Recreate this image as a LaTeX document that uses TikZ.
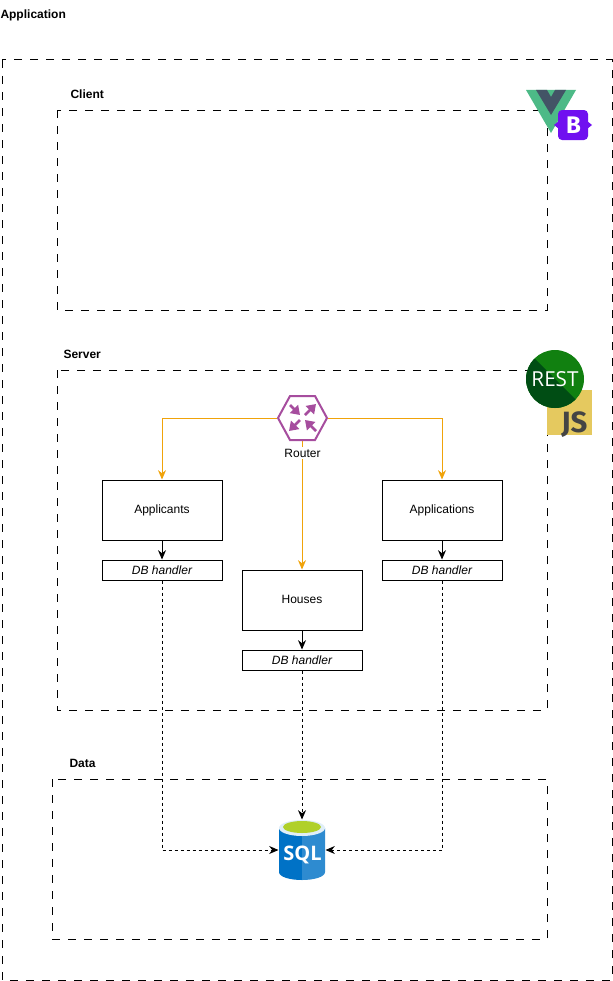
\documentclass[tikz,border=0pt]{standalone}
\usepackage{fontspec}
\setmainfont{Liberation Sans}
\newfontfamily\restfont{Open Sans}
\newfontfamily\logofont{Fira Sans}
\usetikzlibrary{arrows.meta}

\definecolor{routerorange}{HTML}{F0A30A}
\definecolor{routerpurple}{HTML}{A64D9E}
\definecolor{vuegreen}{HTML}{4DBA87}
\definecolor{vuedark}{HTML}{435466}
\definecolor{bootviolet}{HTML}{7010F0}
\definecolor{restlight}{HTML}{118010}
\definecolor{restdark}{HTML}{004D14}
\definecolor{jsyellow}{HTML}{E5C95F}
\definecolor{jsgrey}{HTML}{444444}
\definecolor{sqlleft}{HTML}{0072C6}
\definecolor{sqlright}{HTML}{2E8BD0}
\definecolor{sqlgreen}{HTML}{B0D02A}

\tikzset{
    frame/.style = {draw = black, dash pattern = on 6pt off 6pt},
    heading/.style = {font = \fontsize{9}{11}\selectfont\bfseries, inner sep = 0pt},
    service/.style = {draw = black, fill = white, minimum width = 90pt, minimum height = 45pt,
        inner sep = 0pt, font = \fontsize{9}{11}\selectfont},
    handler/.style = {draw = black, fill = white, minimum width = 90pt, minimum height = 15pt,
        inner sep = 0pt, font = \fontsize{9}{11}\selectfont\itshape},
    route/.style = {draw = routerorange, -{Stealth[length = 7pt, width = 6pt]}},
    call/.style = {draw = black, -{Stealth[length = 7pt, width = 6pt]}},
    query/.style = {draw = black, dash pattern = on 2.25pt off 2.25pt, -{Stealth[length = 7pt, width = 6pt]}}
}

\begin{document}
\begin{tikzpicture}[x = 0.75pt, y = -0.75pt, line width = 0.75pt]
    \useasboundingbox (0, 0) rectangle (613, 981);

    % Dashed frames.
    \draw[frame] (2, 60) rectangle (612, 980);
    \draw[frame] (57, 110) rectangle (547, 310);
    \draw[frame] (57, 370) rectangle (547, 710);
    \draw[frame] (52, 779) rectangle (547, 939);

    % Frame headings.
    \node[heading, anchor = west] (appLabel) at (0, 15) {Application};
    \node[heading, anchor = west] (clientLabel) at (70, 94) {Client};
    \node[heading, anchor = west] (serverLabel) at (63, 354) {Server};
    \node[heading, anchor = west] (dataLabel) at (69, 763) {Data};

    % Services and their handlers.
    \node[service] (applicants) at (162, 510) {Applicants};
    \node[service] (applications) at (442, 510) {Applications};
    \node[service] (houses) at (302, 600) {\raisebox{0.5pt}{Houses}};
    \node[handler] (dbApplicants) at (162, 570) {DB handler};
    \node[handler] (dbApplications) at (442, 570) {DB handler};
    \node[handler] (dbHouses) at (302, 660) {DB handler};

    % Anchors for the router and database icons.
    \node[minimum width = 37.5pt, minimum height = 33.75pt, inner sep = 0pt] (router) at (302, 418) {};
    \node[minimum width = 34.5pt, minimum height = 45pt, inner sep = 0pt] (sql) at (302, 850) {};

    % Orange routes.
    \draw[route] (router.west) -| (applicants.north);
    \draw[route] (router.east) -| (applications.north);
    \draw[route] (router.south) -- (houses.north);

    % Service to handler.
    \draw[call] (applicants) -- (dbApplicants);
    \draw[call] (applications) -- (dbApplications);
    \draw[call] (houses) -- (dbHouses);

    % Handler to database.
    \draw[query] (dbApplicants.south) |- (sql.west);
    \draw[query] (dbApplications.south) |- (sql.east);
    \draw[query] (dbHouses.south) -- (sql.north);

    % Router icon.
    \draw[routerpurple, line width = 1.5pt, fill = white]
        (278, 418) -- (290, 396) -- (315, 396) -- (327, 418) -- (315, 440) -- (290, 440) -- cycle;
    \begin{scope}[routerpurple, line width = 2pt, -{Triangle[length = 6.5pt, width = 8.5pt]}]
        \draw (290, 405) -- (300, 415);
        \draw (305, 415) -- (316, 404);
        \draw (300, 420) -- (289, 431);
        \draw (316, 431) -- (305, 420);
    \end{scope}
    \node[fill = white, inner sep = 1pt, font = \fontsize{9}{11}\selectfont] (routerLabel) at (302.5, 453) {Router};

    % Database icon.
    \fill[sqlleft] (279, 828) -- (302, 828) -- (302, 880) .. controls (290, 880) and (279, 877) .. (279, 872) -- cycle;
    \fill[sqlright] (325, 828) -- (302, 828) -- (302, 880) .. controls (314, 880) and (325, 877) .. (325, 872) -- cycle;
    \fill[white!85!sqlright] (302, 828) ellipse (23 and 8);
    \fill[sqlgreen] (302, 827) ellipse (19 and 6);
    \node[text = white, inner sep = 0pt, font = \restfont\fontsize{15}{18}\selectfont\bfseries] (sqlLabel) at (302.5, 855) {SQL};

    % Vue and Bootstrap logos.
    \fill[vuegreen] (526, 90) -- (576, 90) -- (551, 133) -- cycle;
    \fill[vuedark] (536, 90) -- (547, 90) -- (551, 97) -- (555, 90) -- (566, 90) -- (551, 115) -- cycle;
    \fill[bootviolet] (554, 125) -- (559, 121) -- (559, 129) -- cycle;
    \fill[bootviolet] (592, 125) -- (587, 121) -- (587, 129) -- cycle;
    \fill[bootviolet, rounded corners = 3pt] (558, 110) rectangle (588, 140);
    \node[text = white, inner sep = 0pt, font = \logofont\fontsize{18}{20}\selectfont\bfseries] (bootLabel) at (573.5, 125) {B};

    % JavaScript and REST logos.
    \fill[jsyellow] (547, 390) rectangle (592, 435);
    \node[text = jsgrey, inner sep = 0pt, anchor = base east, font = \logofont\fontsize{22}{24}\selectfont\bfseries] (jsLabel) at (588, 432) {JS};
    \fill[restlight] (555, 379) circle (29);
    \begin{scope}
        \clip (555, 379) circle (29);
        \fill[restdark] (515, 359) -- (535, 359) -- (585, 409) -- (575, 425) -- (515, 425) -- cycle;
    \end{scope}
    \node[text = white, inner sep = 0pt, font = \restfont\fontsize{15.5}{18}\selectfont] (restLabel) at (555, 379) {REST};
\end{tikzpicture}
\end{document}
